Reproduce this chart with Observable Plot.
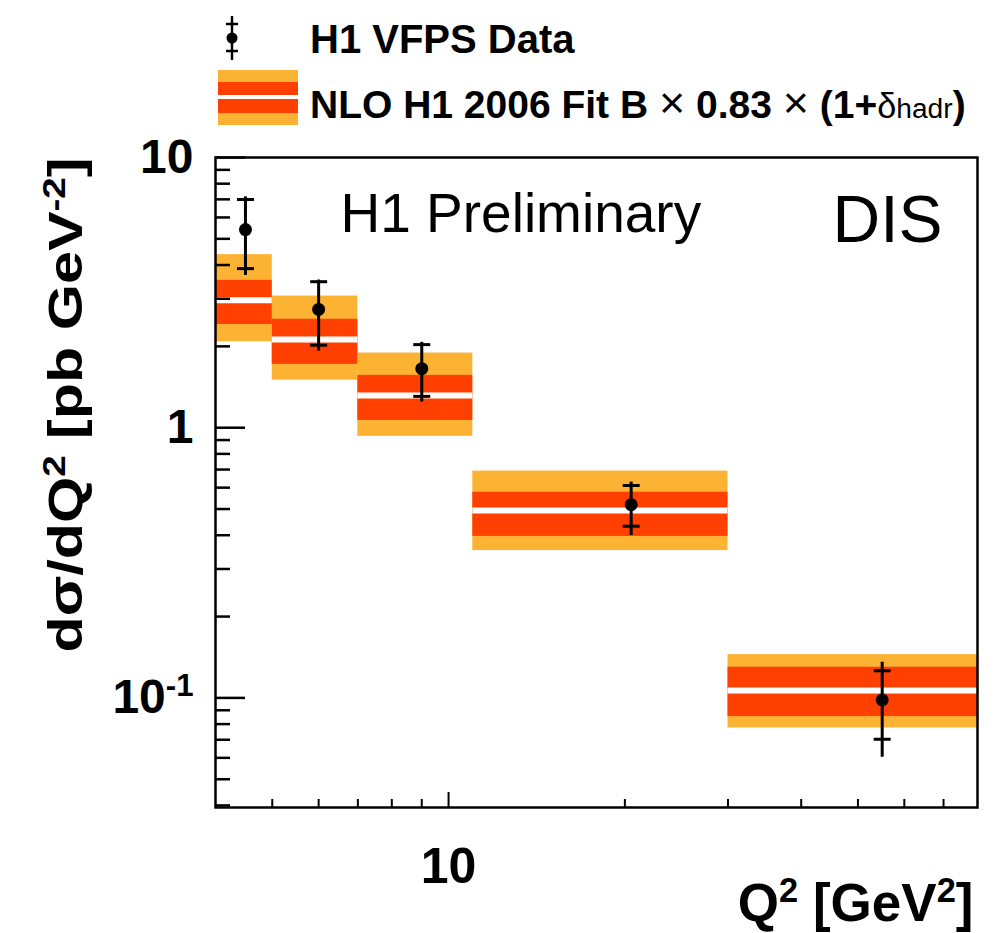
<!DOCTYPE html>
<html><head><meta charset="utf-8">
<script src="https://cdn.jsdelivr.net/npm/d3@7"></script>
<script src="https://cdn.jsdelivr.net/npm/@observablehq/plot@0.6"></script>
<style>
body{margin:0;background:#fff;font-family:"Liberation Sans",Arial,Helvetica,sans-serif;}
#wrap{position:relative;width:997px;height:933px;overflow:hidden;}
#chart{position:absolute;left:0;top:120px;}
.legtxt{position:absolute;left:310px;white-space:nowrap;font-weight:bold;font-size:40px;line-height:1;color:#000;z-index:2;}
.thin{font-weight:normal;}
#legsym{position:absolute;left:0;top:0;z-index:2;}
</style></head><body>
<div id="wrap">
  <div id="chart"></div>
  <svg id="legsym" width="320" height="130">
    <rect x="218" y="70" width="80" height="55" fill="#FCB232"/>
    <rect x="218" y="82" width="80" height="31" fill="#FF4000"/>
    <line x1="218" x2="298" y1="97" y2="97" stroke="#fff" stroke-width="4"/>
    <line x1="232" x2="232" y1="16" y2="60" stroke="#000" stroke-width="2.5"/>
    <line x1="226" x2="238" y1="24" y2="24" stroke="#000" stroke-width="2.5"/>
    <line x1="226" x2="238" y1="51" y2="51" stroke="#000" stroke-width="2.5"/>
    <circle cx="232" cy="38" r="5.5" fill="#000"/>
  </svg>
  <div class="legtxt" style="top:19px">H1 VFPS Data</div>
  <div class="legtxt" style="top:81px;font-size:39px">NLO H1 2006 Fit B <span class="thin" style="font-size:115%">×</span> 0.83 <span class="thin" style="font-size:115%">×</span> (1+<span class="thin" style="font-size:88%">δ<span style="font-size:82%">hadr</span></span>)</div>
</div>
<script>
// Q^2 bins [GeV^2]
const binLo = [4, 5, 7, 11, 30];
const binHi = [5, 7, 11, 30, 80];
// NLO prediction bands (pb GeV^-2)
const nloCentral = [2.96, 2.12, 1.317, 0.494, 0.1064];
const nloInnerLo = [2.41, 1.716, 1.064, 0.396, 0.0853];
const nloInnerHi = [3.51, 2.52, 1.562, 0.577, 0.1299];
const nloOuterLo = [2.08, 1.50, 0.929, 0.351, 0.0774];
const nloOuterHi = [4.37, 3.07, 1.889, 0.691, 0.1446];
// H1 VFPS data
const dataQ2 = [4.5, 6, 9, 20.5, 55];
const dataVal = [5.41, 2.74, 1.654, 0.519, 0.0983];
const statLo = [3.88, 2.02, 1.306, 0.432, 0.0703];
const statHi = [6.99, 3.47, 2.03, 0.611, 0.126];
const totLo = [3.66, 1.92, 1.244, 0.399, 0.0603];
const totHi = [7.15, 3.52, 2.07, 0.629, 0.1355];
// ticks
const yMajor = [0.1, 1, 10];
const yMinor = [0.04,0.05,0.06,0.07,0.08,0.09,0.2,0.3,0.4,0.5,0.6,0.7,0.8,0.9,2,3,4,5,6,7,8,9];
const xMajor = [10];
const xMinor = [5,6,7,8,9,20,30,40,50,60,70];
const yTickLabels = {0.1: "10^{-1}", 1: "1", 10: "10"};
const yTitle = "dσ/dQ^{2} [pb GeV^{-2}]";
const xTitle = "Q^{2} [GeV^{2}]";

const bands = binLo.map((lo, i) => ({lo, hi: binHi[i], c: nloCentral[i], iLo: nloInnerLo[i], iHi: nloInnerHi[i], oLo: nloOuterLo[i], oHi: nloOuterHi[i]}));
const pts = dataQ2.map((x, i) => ({x, y: dataVal[i], sLo: statLo[i], sHi: statHi[i], tLo: totLo[i], tHi: totHi[i]}));

const W = 997, H = 813, mL = 215, mR = 20, mT = 37, mB = 126;
const frameW = W - mL - mR, frameH = H - mT - mB;
const capSymbol = {draw(ctx, size){ const r = Math.sqrt(size/Math.PI); ctx.moveTo(-r,0); ctx.lineTo(r,0); }};
const caps = pts.flatMap(d => [{x: d.x, y: d.sLo}, {x: d.x, y: d.sHi}]);

const chart = Plot.plot({
  width: W, height: H,
  marginLeft: mL, marginRight: mR, marginTop: mT, marginBottom: mB,
  style: {fontFamily: "'Liberation Sans', Arial, Helvetica, sans-serif", color: "#000", background: "#fff", overflow: "visible"},
  x: {type: "log", domain: [4, 80]},
  y: {type: "log", domain: [0.0393, 10]},
  marks: [
    Plot.rectY(bands, {x1: "lo", x2: "hi", y1: "oLo", y2: "oHi", fill: "#FCB232"}),
    Plot.rectY(bands, {x1: "lo", x2: "hi", y1: "iLo", y2: "iHi", fill: "#FF4000"}),
    Plot.ruleY(bands, {y: "c", x1: "lo", x2: "hi", stroke: "#fff", strokeWidth: 6}),
    Plot.ruleX(pts, {x: "x", y1: "tLo", y2: "tHi", stroke: "#000", strokeWidth: 3}),
    Plot.dot(caps, {x: "x", y: "y", symbol: capSymbol, r: 8.5, stroke: "#000", strokeWidth: 3, fill: "none"}),
    Plot.dot(pts, {x: "x", y: "y", r: 6.5, fill: "#000", stroke: "none"}),
    Plot.tickY(yMajor, {y: d => d, stroke: "#000", strokeWidth: 2.5, insetRight: frameW - 30}),
    Plot.tickY(yMinor, {y: d => d, stroke: "#000", strokeWidth: 2.5, insetRight: frameW - 15}),
    Plot.tickX(xMajor, {x: d => d, stroke: "#000", strokeWidth: 2, insetTop: frameH - 15}),
    Plot.tickX(xMinor, {x: d => d, stroke: "#000", strokeWidth: 2, insetTop: frameH - 8}),
    Plot.frame({stroke: "#000", strokeWidth: 2.5}),
    Plot.axisY(yMajor, {tickSize: 0, tickPadding: 22, tickFormat: d => yTickLabels[d], fontSize: 48, fontWeight: "bold", fill: "#000"}),
    Plot.axisX(xMajor, {tickSize: 0, tickPadding: 40, tickFormat: d => String(d), fontSize: 50, fontWeight: "bold", fill: "#000", label: null}),
    Plot.text([yTitle], {text: d => d, frameAnchor: "top-left", rotate: -90, textAnchor: "end", dx: -168, dy: 0, fontSize: 48, fontWeight: "bold", fill: "#000"}),
    Plot.text([xTitle], {text: d => d, frameAnchor: "bottom-right", textAnchor: "end", dx: -4, dy: 113, fontSize: 53, fontWeight: "bold", fill: "#000"}),
    Plot.text(["H1 Preliminary"], {text: d => d, frameAnchor: "top-left", textAnchor: "start", dx: 125, dy: 35, fontSize: 55, fill: "#000"}),
    Plot.text(["DIS"], {text: d => d, frameAnchor: "top-right", textAnchor: "start", dx: -145, dy: 38, fontSize: 66, fill: "#000"})
  ]
});

const NS = "http://www.w3.org/2000/svg";
function supify(root){
  root.querySelectorAll("text").forEach(t => {
    const s = t.textContent;
    if (!s.includes("^{")) return;
    while (t.firstChild) t.removeChild(t.firstChild);
    const re = /\^\{([^}]*)\}/g; let last = 0, m;
    const add = (txt, sup) => {
      const sp = document.createElementNS(NS, "tspan");
      sp.textContent = txt;
      if (sup) { sp.setAttribute("baseline-shift", "super"); sp.setAttribute("font-size", "65%"); }
      t.appendChild(sp);
    };
    while ((m = re.exec(s))) {
      if (m.index > last) add(s.slice(last, m.index), false);
      add(m[1], true);
      last = re.lastIndex;
    }
    if (last < s.length) add(s.slice(last), false);
  });
}
supify(chart);
// stretch the rotated y title along its length as in the reference
chart.querySelectorAll("text").forEach(t => {
  if (t.textContent.startsWith("dσ/dQ")) { t.setAttribute("textLength", "495"); t.setAttribute("lengthAdjust", "spacingAndGlyphs"); }
});
document.getElementById("chart").appendChild(chart);
</script>
</body></html>
